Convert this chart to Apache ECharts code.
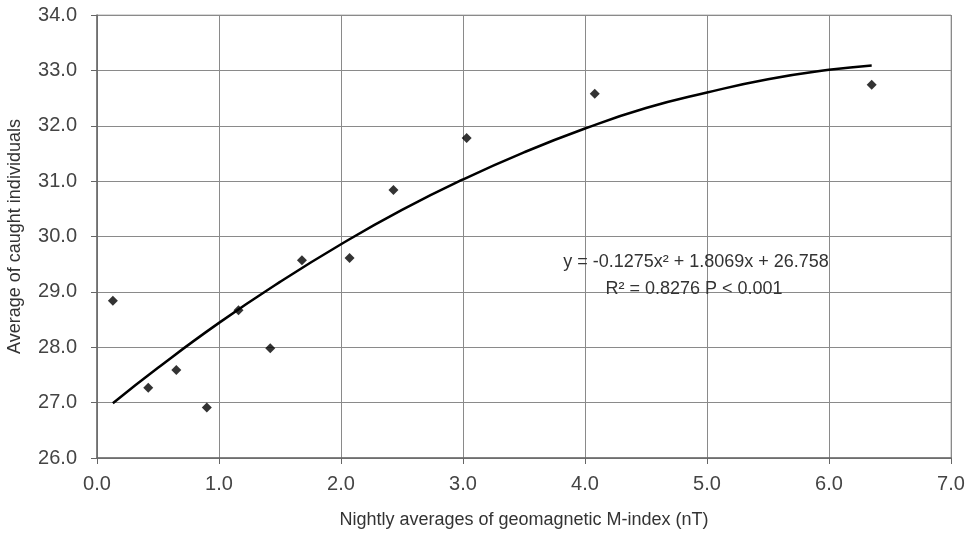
<!DOCTYPE html>
<html>
<head>
<meta charset="utf-8">
<script src="https://cdn.jsdelivr.net/npm/echarts@6/dist/echarts.min.js"></script>
<style>html,body{margin:0;padding:0;background:#fff;}#c{width:970px;height:543px;}</style>
</head>
<body>
<div id="c"></div>
<script>
// Observed points (x: nightly M-index, y: average caught)
const obsX = [0.13, 0.42, 0.65, 0.90, 1.16, 1.42, 1.68, 2.07, 2.43, 3.03, 4.08, 6.35];
const obsY = [28.84, 27.27, 27.59, 26.91, 28.67, 27.98, 29.57, 29.61, 30.84, 31.78, 32.58, 32.74];
// Trend curve
const trendX = [0.13, 0.5, 1.0, 1.5, 2.0, 2.5, 3.0, 3.5, 4.0, 4.5, 5.0, 5.5, 6.0, 6.35];
const trendY = [26.99, 27.63, 28.44, 29.18, 29.86, 30.48, 31.03, 31.52, 31.95, 32.32, 32.60, 32.84, 33.01, 33.09];
const xTitle = 'Nightly averages of geomagnetic M-index (nT)';
const yTitle = 'Average of caught individuals';
const eqLine1 = 'y = -0.1275x\u00B2 + 1.8069x + 26.758';
const eqLine2 = 'R\u00B2 = 0.8276 P < 0.001';

const font = "Arial, 'Liberation Sans', sans-serif";
const chart = echarts.init(document.getElementById('c'), null, {renderer: 'canvas'});
chart.setOption({
  animation: false,
  backgroundColor: '#fff',
  grid: {left: 97, right: 19, top: 15, bottom: 85, containLabel: false, outerBoundsMode: 'none',
         show: true, borderColor: '#b0b0b0', borderWidth: 1},
  xAxis: {
    type: 'value', min: 0, max: 7, interval: 1,
    name: xTitle, nameLocation: 'middle', nameGap: 53,
    nameTextStyle: {fontFamily: font, fontSize: 18, color: '#333'},
    axisLine: {show: true, lineStyle: {color: '#666', width: 1.5}},
    axisTick: {show: true, length: 6, lineStyle: {color: '#666'}},
    axisLabel: {fontFamily: font, fontSize: 20, color: '#444', margin: 16, formatter: v => v.toFixed(1)},
    splitLine: {show: true, lineStyle: {color: '#8a8a8a', width: 1}}
  },
  yAxis: {
    type: 'value', min: 26, max: 34, interval: 1,
    name: yTitle, nameLocation: 'middle', nameGap: 73, nameRotate: 90,
    nameTextStyle: {fontFamily: font, fontSize: 18, color: '#333'},
    axisLine: {show: true, lineStyle: {color: '#666', width: 1.5}},
    axisTick: {show: true, length: 6, lineStyle: {color: '#666'}},
    axisLabel: {fontFamily: font, fontSize: 20, color: '#444', margin: 20, formatter: v => v.toFixed(1)},
    splitLine: {show: true, lineStyle: {color: '#8a8a8a', width: 1}}
  },
  series: [
    {
      type: 'line', smooth: true, showSymbol: false, symbol: 'none',
      data: trendX.map((x, i) => [x, trendY[i]]),
      lineStyle: {color: '#000', width: 2.5}, z: 3
    },
    {
      type: 'scatter', symbol: 'diamond', symbolSize: 10,
      data: obsX.map((x, i) => [x, obsY[i]]),
      itemStyle: {color: '#000'}, z: 4
    }
  ],
  graphic: [
    {type: 'text', x: 696, y: 262, z: 10,
     style: {text: eqLine1, font: "18px Arial, 'Liberation Sans', sans-serif", fill: '#333',
             textAlign: 'center', textVerticalAlign: 'middle'}},
    {type: 'text', x: 694, y: 289, z: 10,
     style: {text: eqLine2, font: "18px Arial, 'Liberation Sans', sans-serif", fill: '#333',
             textAlign: 'center', textVerticalAlign: 'middle'}}
  ]
});
</script>
</body>
</html>
